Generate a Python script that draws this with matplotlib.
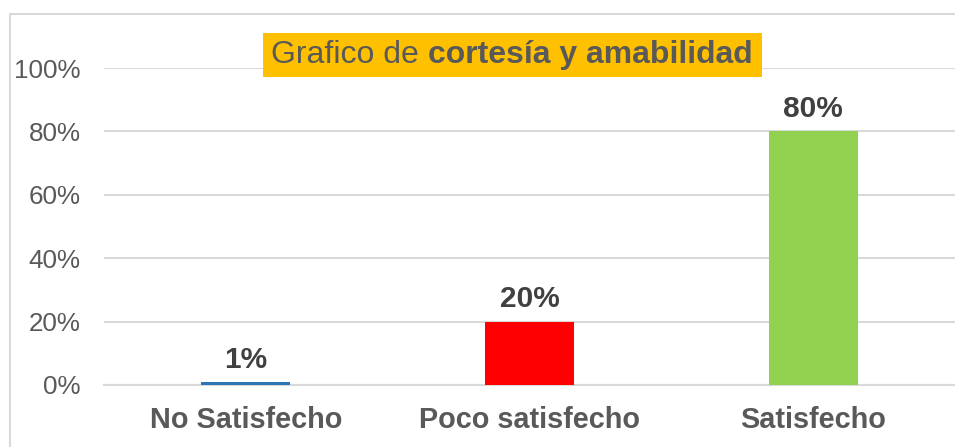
import matplotlib
matplotlib.use("Agg")
import matplotlib.pyplot as plt
from matplotlib.patches import Rectangle
from matplotlib.ticker import FuncFormatter

categories = ["No Satisfecho", "Poco satisfecho", "Satisfecho"]
values = [0.01, 0.20, 0.80]
labels = ["1%", "20%", "80%"]
colors = ["#2E75B6", "#FF0000", "#92D050"]
yticks = [0, 0.2, 0.4, 0.6, 0.8, 1.0]

plt.rcParams['font.family'] = ['Liberation Sans', 'DejaVu Sans']

W, H = 955, 447
fig = plt.figure(figsize=(W / 100, H / 100), dpi=100)

# chart border
fig.patches.append(Rectangle((10 / W, -0.1), 1.2, (H - 14) / H + 0.1,
                             transform=fig.transFigure, fill=False,
                             edgecolor="#D9D9D9", linewidth=1.5))

ax = fig.add_axes([104 / W, (H - 385) / H, (W - 104) / W, (385 - 68) / H])
x = range(len(categories))
ax.bar(x, values, width=0.314, color=colors, zorder=3)
ax.set_xlim(-0.5, 2.5)
ax.set_ylim(0, 1.0)
ax.set_yticks(yticks)
ax.yaxis.set_major_formatter(FuncFormatter(lambda v, p: f"{v*100:.0f}%"))
ax.grid(axis="y", color="#D9D9D9", linewidth=1.5, zorder=0)
ax.set_axisbelow(True)
for s in ["top", "right", "left"]:
    ax.spines[s].set_visible(False)
ax.spines["bottom"].set_color("#D9D9D9")
ax.spines["bottom"].set_linewidth(1.5)
ax.spines["bottom"].set_zorder(2)
ax.tick_params(axis="y", length=0, pad=17, labelsize=18.7, labelcolor="#595959")
ax.tick_params(axis="x", length=0, pad=15, labelsize=20.8, labelcolor="#595959")
ax.set_xticks(list(x))
ax.set_xticklabels(categories, fontweight="bold")
ax.patch.set_alpha(0)

for xi, v, lab in zip(x, values, labels):
    ax.annotate(lab, (xi, v), xytext=(0, 16), textcoords="offset points",
                ha="center", va="center", fontsize=21.5, fontweight="bold",
                color="#404040", zorder=4)

# title with mixed weights
t1 = fig.text(0, 0, "Grafico de ", fontsize=23, color="#595959")
t2 = fig.text(0, 0, "cortesía y amabilidad", fontsize=23, color="#595959", fontweight="bold")
fig.canvas.draw()
r = fig.canvas.get_renderer()
w1 = t1.get_window_extent(r).width
w2 = t2.get_window_extent(r).width
total = w1 + w2
cx, cy = 512, H - 55
x0 = cx - total / 2
t1.set_position((x0 / W, cy / H)); t1.set_va("center")
t2.set_position(((x0 + w1) / W, cy / H)); t2.set_va("center")
fig.patches.append(Rectangle((263 / W, (H - 77) / H), (762 - 263) / W, 44 / H,
                             transform=fig.transFigure, facecolor="#FFC000",
                             edgecolor="none", zorder=5))
t1.set_zorder(6); t2.set_zorder(6)

fig.savefig("out.png", dpi=100)
